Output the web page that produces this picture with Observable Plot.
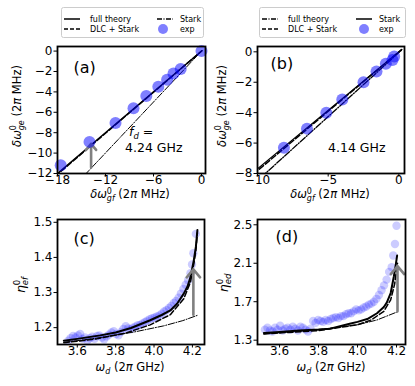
<!DOCTYPE html>
<html><head><meta charset="utf-8">
<script src="https://cdn.jsdelivr.net/npm/d3@7"></script>
<script src="https://cdn.jsdelivr.net/npm/@observablehq/plot@0.6"></script>
<style>
body{margin:0;background:#fff;}
#fig{position:relative;width:415px;height:386px;font-family:"DejaVu Sans",sans-serif;overflow:hidden;}
</style></head><body><div id="fig"></div>
<script>
// ---------- Panel (a) ----------
const aExpX = [0, -2.6, -3.5, -4.3, -5.4, -6.9, -8.5, -10.75, -14.0, -17.6];
const aExpY = [0, -1.75, -2.2, -2.8, -3.5, -4.4, -5.6, -7.05, -8.9, -11.2];
const aFullX = [-18.3, 0.05];
const aFullY = [-12.2, 0.03];
const aDlcX = [-18.3, 0.05];
const aDlcY = [-12.28, 0.03];
const aStarkX = [-14.6, 0];
const aStarkY = [-12.15, 0];
const aArrowX = [-13.8];
const aArrowY1 = [-11.4];
const aArrowY2 = [-9.1];
const aXTicks = [-18, -12, -6, 0];
const aYTicks = [-12, -10, -8, -6, -4, -2, 0];

// ---------- Panel (b) ----------
const bExpX = [-0.33, -0.45, -0.92, -1.58, -2.5, -4.0, -5.13, -6.5, -8.13];
const bExpY = [-0.31, -0.53, -0.79, -1.3, -2.0, -3.13, -4.0, -5.05, -6.3];
const bStarkX = [-10.3, 0.2];
const bStarkY = [-7.93, 0.15];
const bDlcX = [-10.3, 0.2];
const bDlcY = [-8.05, 0.15];
const bFullX = [-10.3, 0.2];
const bFullY = [-8.72, 0.12];
const bXTicks = [-10, -5, 0];
const bYTicks = [-8, -6, -4, -2, 0];

// ---------- Panel (c) ----------
const cExpX = [3.553,3.565,3.578,3.59,3.603,3.615,3.628,3.64,3.653,3.665,3.678,3.69,3.703,3.715,3.728,3.74,3.753,3.765,3.778,3.79,3.803,3.815,3.828,3.84,3.853,3.865,3.878,3.89,3.903,3.915,3.928,3.94,3.953,3.965,3.978,3.99,4.003,4.015,4.028,4.04,4.053,4.065,4.078,4.09,4.103,4.115,4.128,4.14,4.153,4.165,4.178,4.19,4.198,4.205,4.218];
const cExpY = [1.163,1.17,1.176,1.172,1.178,1.182,1.168,1.172,1.163,1.17,1.174,1.168,1.176,1.178,1.172,1.167,1.175,1.18,1.186,1.19,1.182,1.178,1.188,1.196,1.204,1.198,1.195,1.2,1.203,1.207,1.208,1.212,1.216,1.22,1.224,1.227,1.229,1.232,1.235,1.24,1.246,1.25,1.256,1.262,1.27,1.276,1.285,1.297,1.31,1.322,1.335,1.355,1.38,1.412,1.467];
const cFullX = [3.53,3.6,3.72,3.8,3.88,3.98,4.04,4.085,4.12,4.155,4.175,4.19,4.207,4.218,4.226];
const cFullY = [1.163,1.168,1.178,1.186,1.199,1.221,1.236,1.249,1.268,1.297,1.318,1.344,1.391,1.43,1.478];
const cDlcX = [3.53,3.7,3.85,3.98,4.085,4.155,4.19,4.207,4.218,4.226];
const cDlcY = [1.157,1.168,1.184,1.208,1.237,1.282,1.33,1.38,1.42,1.47];
const cStarkX = [3.53,3.7,3.9,4.05,4.15,4.226];
const cStarkY = [1.158,1.17,1.188,1.205,1.22,1.235];
const cArrowX = [4.205];
const cArrowY1 = [1.237];
const cArrowY2 = [1.366];
const cXTicks = [3.6, 3.8, 4.0, 4.2];
const cYTicks = [1.2, 1.3, 1.4, 1.5];

// ---------- Panel (d) ----------
const dExpX = [3.525,3.538,3.551,3.564,3.577,3.59,3.603,3.616,3.629,3.642,3.655,3.668,3.681,3.694,3.707,3.72,3.733,3.746,3.759,3.772,3.785,3.798,3.811,3.824,3.837,3.85,3.863,3.876,3.889,3.902,3.915,3.928,3.941,3.954,3.967,3.98,3.993,4.006,4.019,4.032,4.045,4.058,4.071,4.084,4.097,4.11,4.123,4.136,4.149,4.162,4.175,4.183,4.192,4.2];
const dExpY = [1.41,1.43,1.40,1.39,1.43,1.41,1.45,1.40,1.42,1.43,1.41,1.44,1.42,1.40,1.44,1.43,1.41,1.39,1.42,1.50,1.48,1.51,1.50,1.49,1.51,1.50,1.52,1.53,1.54,1.53,1.55,1.55,1.57,1.58,1.58,1.60,1.62,1.61,1.62,1.64,1.65,1.67,1.68,1.70,1.73,1.77,1.82,1.87,1.93,2.01,2.06,2.18,2.30,2.49];
const dFullX = [3.52,3.6,3.7,3.8,3.86,3.96,4.0,4.05,4.1,4.135,4.15,4.17,4.186,4.195,4.203];
const dFullY = [1.375,1.385,1.40,1.41,1.42,1.47,1.49,1.52,1.58,1.645,1.69,1.79,1.96,2.07,2.18];
const dDlcX = [3.52,3.8,4.0,4.07,4.135,4.17,4.19,4.205];
const dDlcY = [1.365,1.40,1.46,1.51,1.60,1.72,1.88,2.10];
const dStarkX = [3.52,3.8,4.0,4.1,4.205];
const dStarkY = [1.365,1.41,1.46,1.51,1.595];
const dArrowX = [4.205];
const dArrowY1 = [1.60];
const dArrowY2 = [2.07];
const dXTicks = [3.6, 3.8, 4.0, 4.2];
const dYTicks = [1.3, 1.7, 2.1, 2.5];

// ---------- helpers ----------
const FONT = '"DejaVu Sans", sans-serif';
const SOLID = null, DASH = "5.5,2.4", DASHDOT = "6.4,1.6,1,1.6";
const idx = a => d3.range(a.length);
function line(xs, ys, dash, w) {
  return Plot.line(idx(xs), {x: i => xs[i], y: i => ys[i], stroke: "black", strokeWidth: w, strokeDasharray: dash, clip: true, curve: "linear"});
}
function rich(svg, x, y, rotate, size, parts, anchor = "middle") {
  const t = d3.select(svg).append("text")
    .attr("transform", `translate(${x},${y}) rotate(${rotate})`)
    .attr("text-anchor", anchor).attr("font-size", size)
    .attr("font-family", FONT).attr("fill", "black");
  for (const p of parts) {
    const s = t.append("tspan").text(p.t);
    if (p.dx != null) s.attr("dx", p.dx);
    if (p.dy != null) s.attr("dy", p.dy);
    if (p.size) s.attr("font-size", p.size);
    if (p.it) s.attr("font-style", "italic");
  }
}
function panel(cfg) {
  const {left, top, width, height, margins, xd, yd, xt, yt, xfmt, yfmt, marks, tag, tagDx, tagDy} = cfg;
  const svg = Plot.plot({
    width, height,
    marginLeft: margins[0], marginRight: margins[1], marginTop: margins[2], marginBottom: margins[3],
    style: {fontFamily: FONT, fontSize: "12px", background: "transparent", overflow: "visible", color: "black"},
    x: {domain: xd, label: null},
    y: {domain: yd, label: null},
    marks: [
      ...marks,
      Plot.axisX({ticks: xt, tickSize: 3.5, tickPadding: -2, tickFormat: xfmt, label: null, fontSize: 12}),
      Plot.axisY({ticks: yt, tickSize: 3.5, tickPadding: 1.5, tickFormat: yfmt, label: null, fontSize: 12}),
      Plot.frame({stroke: "black", strokeWidth: 1.8}),
      Plot.text([tag], {frameAnchor: "top-left", dx: tagDx, dy: tagDy, text: d => d, fontSize: 16, textAnchor: "start", lineAnchor: "middle", fill: "black"})
    ]
  });
  svg.style.position = "absolute";
  svg.style.left = left + "px";
  svg.style.top = top + "px";
  document.getElementById("fig").appendChild(svg);
  return svg;
}
const minusFmt = d3.format("d");
const f1 = d3.format(".1f");
function expDots(xs, ys, r, op) {
  return Plot.dot(idx(xs), {x: i => xs[i], y: i => ys[i], r, fill: "blue", fillOpacity: op, stroke: "none"});
}
function arrow(xs, y1s, y2s) {
  return Plot.arrow(idx(xs), {x1: i => xs[i], x2: i => xs[i], y1: i => y1s[i], y2: i => y2s[i], stroke: "#808080", strokeWidth: 2.6, headLength: 6, headAngle: 80, clip: true});
}
const xlabGf = [{t: "δω", it: true}, {t: "0", size: 8, dy: -4}, {t: "gf", it: true, size: 8, dx: -5.1, dy: 7}, {t: " (2", dy: -3}, {t: "π", it: true}, {t: " MHz)"}];
const ylabGe = [{t: "δω", it: true}, {t: "0", size: 8, dy: -5}, {t: "ge", it: true, size: 8, dx: -5.1, dy: 8}, {t: " (2", dy: -3}, {t: "π", it: true}, {t: " MHz)"}];
const xlabWd = [{t: "ω", it: true}, {t: "d", it: true, size: 8, dy: 3}, {t: " (2", dy: -3}, {t: "π", it: true}, {t: " GHz)"}];

// ---------- panel (a) ----------
const sa = panel({
  left: 0, top: 0, width: 207, height: 200, margins: [57, 2, 46, 27],
  xd: [-18, 0.5], yd: [-12, 0.45], xt: aXTicks, yt: aYTicks, xfmt: minusFmt, yfmt: minusFmt,
  tag: "(a)", tagDx: 16, tagDy: 21,
  marks: [
    line(aStarkX, aStarkY, DASHDOT, 1),
    line(aFullX, aFullY, SOLID, 1.5),
    line(aDlcX, aDlcY, DASH, 1.5),
    arrow(aArrowX, aArrowY1, aArrowY2),
    expDots(aExpX, aExpY, 6, 0.5)
  ]
});
rich(sa, 21, 106, -90, 11.5, ylabGe);
rich(sa, 130, 198, 0, 11.5, xlabGf);
rich(sa, 129, 136, 0, 12.5, [{t: "f", it: true}, {t: "d", it: true, size: 8.5, dy: 2.5}, {t: " =", dy: -2.5}], "start");
rich(sa, 125, 151.5, 0, 12.5, [{t: "4.24 GHz"}], "start");

// ---------- panel (b) ----------
const sb = panel({
  left: 207, top: 0, width: 208, height: 200, margins: [50, 11, 46, 27],
  xd: [-10, 0.4], yd: [-8, 0.35], xt: bXTicks, yt: bYTicks, xfmt: minusFmt, yfmt: minusFmt,
  tag: "(b)", tagDx: 13, tagDy: 17,
  marks: [
    line(bFullX, bFullY, DASHDOT, 1.3),
    line(bDlcX, bDlcY, DASH, 1.5),
    line(bStarkX, bStarkY, SOLID, 1.2),
    expDots(bExpX, bExpY, 6, 0.5)
  ]
});
rich(sb, 19, 106, -90, 11.5, ylabGe);
rich(sb, 123, 198, 0, 11.5, xlabGf);
rich(sb, 121, 151.5, 0, 12.5, [{t: "4.14 GHz"}], "start");

// ---------- panel (c) ----------
const sc = panel({
  left: 0, top: 200, width: 207, height: 186, margins: [57, 3, 19, 42],
  xd: [3.497, 4.263], yd: [1.152, 1.508], xt: cXTicks, yt: cYTicks, xfmt: f1, yfmt: f1,
  tag: "(c)", tagDx: 16, tagDy: 19,
  marks: [
    expDots(cExpX, cExpY, 4.2, 0.2),
    line(cStarkX, cStarkY, DASHDOT, 1),
    line(cDlcX, cDlcY, DASH, 1.5),
    line(cFullX, cFullY, SOLID, 2),
    arrow(cArrowX, cArrowY1, cArrowY2)
  ]
});
rich(sc, 25, 85, -90, 12.5, [{t: "η", it: true}, {t: "0", size: 8.5, dy: -5}, {t: "ef", it: true, size: 8.5, dx: -5.4, dy: 8}]);
rich(sc, 130, 171, 0, 11.5, xlabWd);

// ---------- panel (d) ----------
const sd = panel({
  left: 207, top: 200, width: 208, height: 186, margins: [50, 10, 19, 42],
  xd: [3.487, 4.246], yd: [1.255, 2.555], xt: dXTicks, yt: dYTicks, xfmt: f1, yfmt: f1,
  tag: "(d)", tagDx: 18, tagDy: 17,
  marks: [
    expDots(dExpX, dExpY, 4.2, 0.2),
    line(dStarkX, dStarkY, DASHDOT, 1),
    line(dDlcX, dDlcY, DASH, 1.5),
    line(dFullX, dFullY, SOLID, 2),
    arrow(dArrowX, dArrowY1, dArrowY2)
  ]
});
rich(sd, 21, 83, -90, 12.5, [{t: "η", it: true}, {t: "0", size: 8.5, dy: -5}, {t: "ed", it: true, size: 8.5, dx: -5.4, dy: 8}]);
rich(sd, 124, 171, 0, 11.5, xlabWd);

// ---------- legends ----------
function legend(left, top, w, items, c2h, c2t, circ) {
  const svg = d3.select("#fig").append("svg")
    .style("position", "absolute").style("left", left + "px").style("top", top + "px")
    .attr("width", w + 1).attr("height", 32);
  svg.append("rect").attr("x", 0.5).attr("y", 0.5).attr("width", w).attr("height", 30).attr("rx", 2)
    .attr("fill", "white").attr("stroke", "#cccccc").attr("stroke-width", 1);
  for (const it of items) {
    const y = it.row === 0 ? 12 : 22;
    const hx = it.col === 0 ? 3 : c2h;
    const tx = it.col === 0 ? 29 : c2t;
    if (it.kind === "dot") {
      svg.append("circle").attr("cx", circ).attr("cy", y).attr("r", 5).attr("fill", "blue").attr("fill-opacity", 0.5);
    } else {
      svg.append("line").attr("x1", hx).attr("x2", hx + 16).attr("y1", y).attr("y2", y)
        .attr("stroke", "black").attr("stroke-width", 1.5).attr("stroke-dasharray", it.dash || null);
    }
    svg.append("text").attr("x", tx).attr("y", y).attr("dy", "0.35em").attr("font-size", 8)
      .attr("font-family", FONT).text(it.label);
  }
}
legend(61, 7, 142, [
  {row: 0, col: 0, kind: "line", dash: null, label: "full theory"},
  {row: 1, col: 0, kind: "line", dash: "4,2", label: "DLC + Stark"},
  {row: 0, col: 1, kind: "line", dash: "5,1.5,1,1.5", label: "Stark"},
  {row: 1, col: 1, kind: "dot", label: "exp"}
], 96, 119, 102);
legend(259, 7, 146, [
  {row: 0, col: 0, kind: "line", dash: "5,1.5,1,1.5", label: "full theory"},
  {row: 1, col: 0, kind: "line", dash: "4,2", label: "DLC + Stark"},
  {row: 0, col: 1, kind: "line", dash: null, label: "Stark"},
  {row: 1, col: 1, kind: "dot", label: "exp"}
], 97, 120, 105);
</script>
</body></html>
